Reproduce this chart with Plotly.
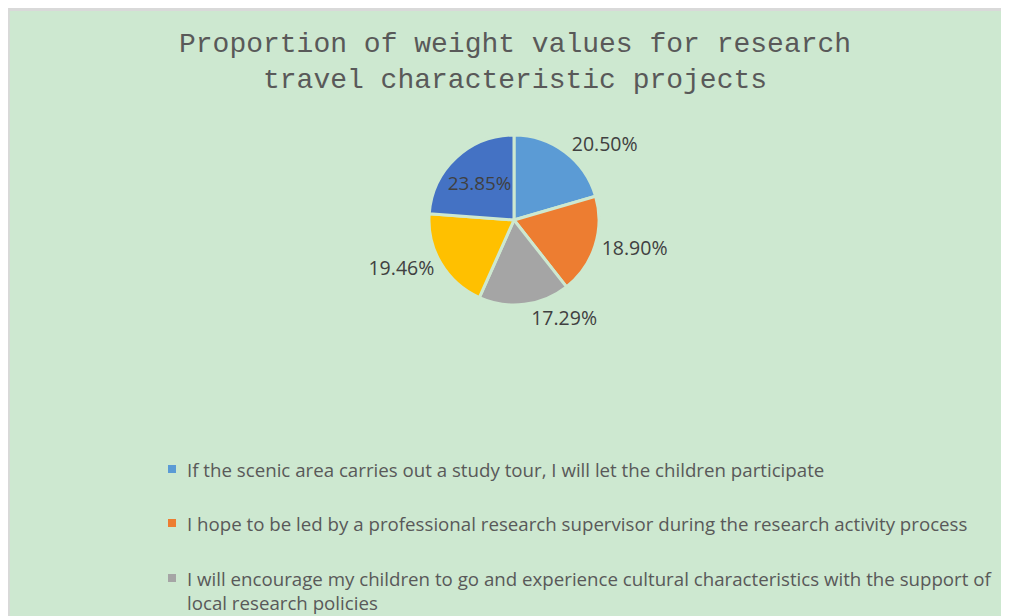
import plotly.graph_objects as go

W, H = 1009, 616
OFF = 8  # page offset of the figure inside the browser window

labels = [
    "If the scenic area carries out a study tour, I will let the children participate",
    "I hope to be led by a professional research supervisor during the research activity process",
    "I will encourage my children to go and experience cultural characteristics with the support of local research policies",
    "Project 4",
    "Project 5",
]
values = [20.50, 18.90, 17.29, 19.46, 23.85]
colors = ["#5b9bd5", "#ed7d31", "#a5a5a5", "#ffc000", "#4472c4"]
title_lines = ["Proportion of weight values for research", "travel characteristic projects"]
legend_texts = [
    "If the scenic area carries out a study tour, I will let the children participate",
    "I hope to be led by a professional research supervisor during the research activity process",
    "I will encourage my children to go and experience cultural characteristics with the support of<br>local research policies",
]

BG = "#cde8d0"

def px(x):
    return (x - OFF) / W

def py(y):
    return 1 - (y - OFF) / H

fig = go.Figure()
fig.add_trace(go.Pie(
    labels=labels,
    values=values,
    sort=False,
    direction="clockwise",
    rotation=0,
    marker=dict(colors=colors, line=dict(color=BG, width=3)),
    texttemplate="%{value:.2f}%",
    textposition=["outside", "outside", "outside", "outside", "inside"],
    textfont=dict(family="Open Sans", size=19.5, color="#404040"),
    insidetextorientation="horizontal",
    showlegend=False,
    domain=dict(x=[px(429), px(599)], y=[py(305), py(135)]),
    hoverinfo="label+percent",
))

shapes = [
    dict(type="line", xref="paper", yref="paper", x0=0, x1=1, y0=1 - 1.5 / H, y1=1 - 1.5 / H,
         line=dict(color="#d9d9d9", width=3)),
    dict(type="line", xref="paper", yref="paper", x0=0.8 / W, x1=0.8 / W, y0=0, y1=1,
         line=dict(color="#d9d9d9", width=2)),
]
annotations = []
for t, yy in zip(title_lines, [45, 80]):
    annotations.append(dict(x=px(515), y=py(yy), xref="paper", yref="paper", text=t,
                            showarrow=False, xanchor="center", yanchor="middle",
                            font=dict(family="Liberation Mono", size=28, color="#595959")))

leg_y = [469, 523, 578]
for i, (t, yy) in enumerate(zip(legend_texts, leg_y)):
    shapes.append(dict(type="rect", xref="paper", yref="paper",
                       x0=px(168), x1=px(176), y0=py(yy + 4), y1=py(yy - 4),
                       fillcolor=colors[i], line=dict(width=0)))
    annotations.append(dict(x=px(185), y=py(yy - 14), xref="paper", yref="paper", text=t,
                            showarrow=False, xanchor="left", yanchor="top", align="left",
                            font=dict(family="Open Sans", size=18.7, color="#595959")))

fig.update_layout(
    width=W, height=H,
    margin=dict(l=0, r=0, t=0, b=0),
    paper_bgcolor=BG,
    shapes=shapes,
    annotations=annotations,
)
fig.write_html("out.html")
